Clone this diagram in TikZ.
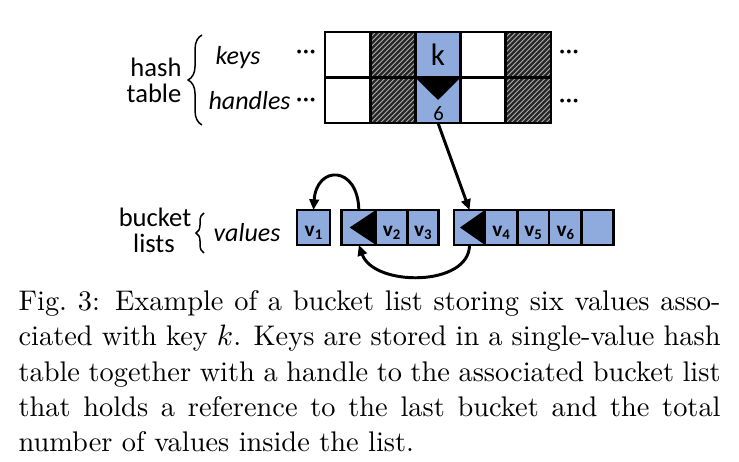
\documentclass[tikz,border=0pt]{standalone}
\usepackage{fontspec}
\newfontfamily\calfont{Carlito}
\usetikzlibrary{arrows.meta,calc,decorations.pathreplacing}
\definecolor{cellblue}{RGB}{143,170,220}
\definecolor{hatchdark}{RGB}{38,38,38}
\definecolor{hatchlight}{RGB}{175,175,175}
\def\pu{0.33829pt}
\newcommand\vsub[2]{#1\raisebox{-0.9pt}{\fontsize{5}{5}\selectfont\bfseries #2}}
\begin{document}
\begin{tikzpicture}[x=0.33829pt, y=-0.33829pt,
  cell/.style={draw=black, line width=1pt, minimum width=45.2*\pu, minimum height=45.5*\pu, inner sep=0pt, outer sep=0pt, font=\calfont},
  plaincell/.style={cell, fill=white},
  bluecell/.style={cell, fill=cellblue},
  hatchcell/.style={cell, fill=hatchdark, path picture={
      \foreach \k in {-10,...,10}{
        \draw[hatchlight, line width=0.3pt] ([xshift=\k*5*\pu]path picture bounding box.south west) -- ++(50,-50);
      }}},
  bcell/.style={draw=black, line width=1pt, fill=cellblue, minimum height=35*\pu, inner sep=0pt, outer sep=0pt,
      font=\calfont\fontsize{7.2}{8}\selectfont\bfseries, text height=6.2pt, text depth=0pt},
  lbl/.style={font=\calfont\fontsize{9}{10}\selectfont, inner sep=0pt},
  ilbl/.style={font=\calfont\itshape\fontsize{8.8}{10}\selectfont, inner sep=0pt},
  dots/.style={font=\calfont\fontsize{9}{10}\selectfont, inner sep=0pt},
  arr/.style={line width=1pt, -{Triangle[length=3.6pt,width=3.2pt]}},
  brace/.style={decorate, line width=0.5pt},
]
\useasboundingbox (0,0) rectangle (739,462);

% hash table
\node[plaincell] (k1) at (347.6,54.75) {};
\node[hatchcell] (k2) at (392.8,54.75) {};
\node[bluecell, font=\calfont\fontsize{10.5}{12}\selectfont] (k3) at (438.0,54.75) {k};
\node[plaincell] (k4) at (483.2,54.75) {};
\node[hatchcell] (k5) at (528.4,54.75) {};
\node[plaincell] (h1) at (347.6,100.25) {};
\node[hatchcell] (h2) at (392.8,100.25) {};
\node[bluecell] (h3) at (438.0,100.25) {};
\node[plaincell] (h4) at (483.2,100.25) {};
\node[hatchcell] (h5) at (528.4,100.25) {};
\fill (h3.north west) -- (h3.north east) -- ($(h3.north)+(0,22.5)$) -- cycle;
\node[font=\calfont\fontsize{7}{8}\selectfont, inner sep=0pt] (six) at (438.5,113.5) {6};

% labels
\node[lbl, anchor=base] (hash) at (156,76.7) {hash};
\node[lbl, anchor=base] (table) at (154,103) {table};
\draw[brace, decoration={brace, amplitude=4.7pt}] (202,125) -- (202,35);
\node[ilbl, anchor=base west] (keys) at (215,65) {keys};
\node[ilbl, anchor=base west] (handles) at (208,110) {handles};
\node[dots] (dk1) at (306,54.5) {···};
\node[dots] (dh1) at (306,102.7) {···};
\node[dots] (dk2) at (569,55) {···};
\node[dots] (dh2) at (569,104) {···};

% bucket lists
\node[lbl, anchor=base] (bucket) at (155,226.7) {bucket};
\node[lbl, anchor=base] (lists) at (154,253) {lists};
\draw[brace, decoration={brace, amplitude=2.7pt}] (204,253) -- (204,213);
\node[ilbl, anchor=base west] (values) at (213,241.5) {values};

\node[bcell, minimum width=33*\pu] (v1) at (313.5,227.5) {\vsub{v}{1}};
\node[bcell, minimum width=34.3*\pu] (b2a) at (358.85,227.5) {};
\node[bcell, minimum width=31.3*\pu] (b2b) at (391.65,227.5) {\vsub{v}{2}};
\node[bcell, minimum width=31*\pu] (b2c) at (422.8,227.5) {\vsub{v}{3}};
\node[bcell, minimum width=31*\pu] (b3a) at (469.5,227.5) {};
\node[bcell, minimum width=32.3*\pu] (b3b) at (501.15,227.5) {\vsub{v}{4}};
\node[bcell, minimum width=31.7*\pu] (b3c) at (533.15,227.5) {\vsub{v}{5}};
\node[bcell, minimum width=32.7*\pu] (b3d) at (565.35,227.5) {\vsub{v}{6}};
\node[bcell, minimum width=31.6*\pu] (b3e) at (597.5,227.5) {};
\fill (b2a.north east) -- (b2a.south east) -- ($(b2a.west)+(8,0)$) -- cycle;
\fill (b3a.north east) -- (b3a.south east) -- ($(b3a.west)+(6,0)$) -- cycle;

% connectors
\draw[arr] (h3.south) -- (b3a.north);
\draw[arr] (b2a.north) .. controls +(-1,-45) and +(3,-45) .. (v1.north);
\draw[arr] (b3a.south) .. controls +(0,42) and +(15,42) .. (b2a.south);

% caption
\node[anchor=north west, text width=702*\pu, align=justify, inner sep=0pt, font=\fontsize{9.6}{11.93}\selectfont] (cap) at (18,290)
{Fig.~3: Example of a bucket list storing six values asso-\linebreak
ciated with key $k$. Keys are stored in a single-value hash\linebreak
table together with a handle to the associated bucket list\linebreak
that holds a reference to the last bucket and the total\linebreak
number of values inside the list.};
\end{tikzpicture}
\end{document}
